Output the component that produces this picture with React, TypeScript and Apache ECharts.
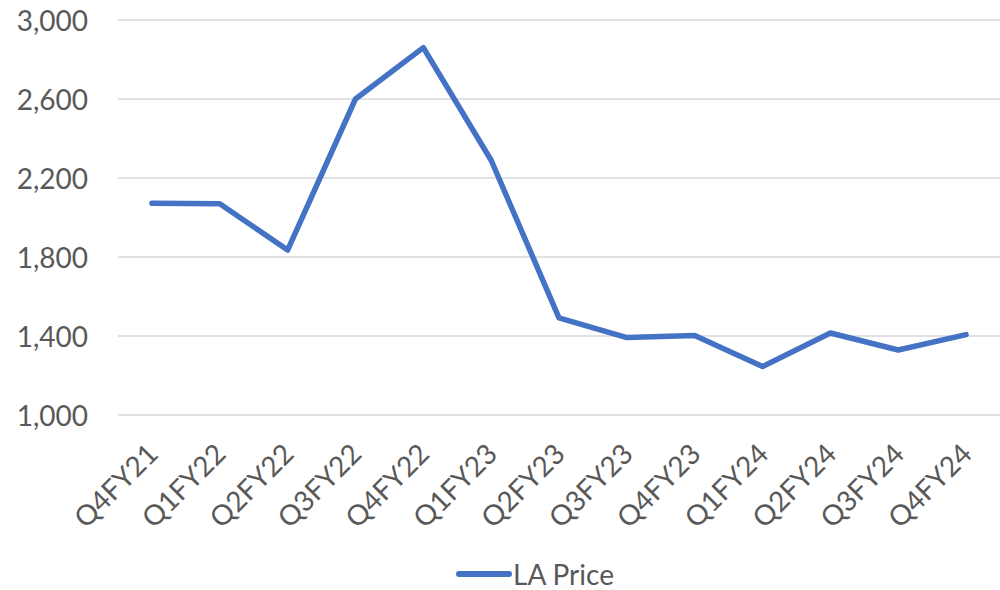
import React, { useEffect, useRef } from "react";
import * as echarts from "echarts";

const categories = [
  "Q4FY21", "Q1FY22", "Q2FY22", "Q3FY22", "Q4FY22", "Q1FY23", "Q2FY23",
  "Q3FY23", "Q4FY23", "Q1FY24", "Q2FY24", "Q3FY24", "Q4FY24",
];
const laPrice = [2072, 2070, 1835, 2600, 2860, 2290, 1492, 1392, 1402, 1245, 1415, 1329, 1407];
const yMin = 1000;
const yMax = 3000;
const yStep = 400;

const FONT = "Lato, 'Open Sans', sans-serif";
const TEXT = "#595959";

export default function App() {
  const ref = useRef<HTMLDivElement>(null);
  useEffect(() => {
    if (!ref.current) return;
    const chart = echarts.init(ref.current, undefined, { renderer: "svg" });
    chart.setOption({
      animation: false,
      backgroundColor: "#ffffff",
      textStyle: { fontFamily: FONT },
      grid: { left: 118, right: -4, top: 20, bottom: 175, containLabel: false },
      legend: {
        show: true,
        bottom: -3,
        left: 451,
        itemWidth: 56,
        itemHeight: 6,
        itemGap: 10,
        icon: "path://M3,0 H53 A3,3 0 0 1 53,6 H3 A3,3 0 0 1 3,0 Z",
        textStyle: { color: TEXT, fontSize: 28, fontFamily: FONT, padding: [0, 0, 0, -4] },
        data: ["LA Price"],
      },
      xAxis: {
        type: "category",
        data: categories,
        boundaryGap: true,
        axisLine: { show: false },
        axisTick: { show: false },
        axisLabel: {
          color: TEXT,
          fontSize: 28,
          fontFamily: FONT,
          rotate: 45,
          margin: 33,
          interval: 0,
        },
      },
      yAxis: {
        type: "value",
        min: yMin,
        max: yMax,
        interval: yStep,
        axisLine: { show: false },
        axisTick: { show: false },
        axisLabel: {
          color: TEXT,
          fontSize: 28,
          fontFamily: FONT,
          margin: 30,
          formatter: (v: number) => v.toLocaleString("en-US"),
        },
        splitLine: { lineStyle: { color: "#d9d9d9", width: 1.5 } },
      },
      series: [
        {
          name: "LA Price",
          type: "line",
          data: laPrice,
          showSymbol: false,
          symbol: "none",
          lineStyle: { color: "#4472C4", width: 5.5, cap: "round", join: "round" },
          itemStyle: { color: "#4472C4" },
        },
      ],
    });
    return () => chart.dispose();
  }, []);
  return (
    <div
      ref={ref}
      style={{ position: "fixed", left: 0, top: 0, width: 1000, height: 590, background: "#fff" }}
    />
  );
}
